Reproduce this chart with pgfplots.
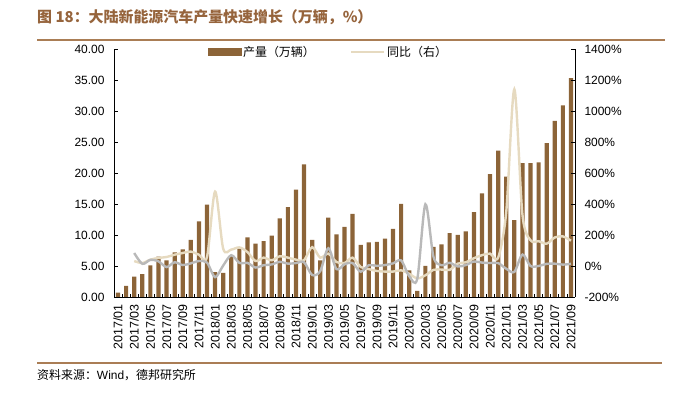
\documentclass[border=0pt]{standalone}
\usepackage{pgfplots}
\usepackage{pgfplotstable}
\pgfplotsset{compat=1.18}
\usepackage{fontspec}
\setmainfont{Liberation Sans}
\newfontfamily\cjk{Noto Sans CJK SC}
\definecolor{barc}{RGB}{140,100,56}
\definecolor{beigec}{RGB}{230,218,192}
\definecolor{grayc}{RGB}{185,185,185}
\definecolor{titlec}{RGB}{150,100,60}
\definecolor{linec}{RGB}{170,125,85}

\pgfplotstableread{
x y
0 0.7
1 1.8
2 3.3
3 3.7
4 5.1
5 6.5
6 5.9
7 7.2
8 7.7
9 9.2
10 12.2
11 14.9
12 4.0
13 3.9
14 6.6
15 7.8
16 9.6
17 8.6
18 9.0
19 9.9
20 12.7
21 14.5
22 17.3
23 21.4
24 9.2
25 5.9
26 12.8
27 10.1
28 11.3
29 13.4
30 8.4
31 8.8
32 8.9
33 9.4
34 11.0
35 15.0
36 4.3
37 1.0
38 5.0
39 8.1
40 8.5
41 10.3
42 10.0
43 10.6
44 13.7
45 16.7
46 19.8
47 23.6
48 19.4
49 12.4
50 21.6
51 21.6
52 21.7
53 24.8
54 28.4
55 30.9
56 35.3
}\bars

\pgfplotstableread{
x y
2 32
3 19
4 41
5 52
6 58
7 73
8 84
9 93
10 73
11 58
12 480
13 112
14 106
15 120
16 90
17 32
18 54
19 37
20 63
21 54
22 41
23 38
24 122
25 54
26 80
27 26
28 19
29 54
30 -6
31 -20
32 -32
33 -36
34 -36
35 -28
36 -50
37 -80
38 -60
39 -25
40 -23
41 -25
42 15
43 24
44 50
45 70
46 80
47 54
48 350
49 1140
50 332
51 166
52 160
53 144
54 184
55 191
56 163
}\yoy

\pgfplotstableread{
x y
2 84
3 14
4 40
5 30
6 -7
7 24
8 6
9 17
10 32
11 22
12 -72
13 3
14 70
15 20
16 20
17 -10
18 5
19 10
20 27
21 15
22 19
23 24
24 -58
25 -33
26 115
27 -20
28 11
29 19
30 -37
31 5
32 1
33 6
34 17
35 36
36 -65
37 -82
38 398
39 60
40 5
41 21
42 -3
43 6
44 29
45 22
46 19
47 19
48 -18
49 -38
50 74
51 0
52 0
53 14
54 15
55 9
56 14
}\mom

\begin{document}
\begin{tikzpicture}
\useasboundingbox (0,0) rectangle (679bp,393bp);
\node[anchor=west, text=titlec, inner sep=0pt, font=\cjk\bfseries\fontsize{15}{18}\selectfont] at (37bp,376bp) {图 18：大陆新能源汽车产量快速增长（万辆，\%）};
\draw[linec, line width=1.5bp] (37bp,353bp) -- (665bp,353bp);
\draw[linec, line width=1.5bp] (37bp,30bp) -- (662bp,30bp);
\node[anchor=west, inner sep=0pt, font=\fontsize{12}{14}\selectfont] at (37bp,18bp) {{\cjk 资料来源：}Wind{\cjk ，德邦研究所}};

\begin{axis}[
  at={(114bp,96bp)}, anchor=south west, scale only axis,
  width=461bp, height=248bp,
  xmin=-0.5, xmax=56.5, ymin=0, ymax=40,
  axis y line*=left, axis x line*=bottom,
  axis line style={black, line width=0.8bp},
  ybar, bar width=4.2bp,
  tick align=inside, major tick length=4bp, minor tick length=3bp,
  tick style={black, line width=0.8bp},
  xtick={0,2,...,56},
  xticklabels={2017/01,2017/03,2017/05,2017/07,2017/09,2017/11,2018/01,2018/03,2018/05,2018/07,2018/09,2018/11,2019/01,2019/03,2019/05,2019/07,2019/09,2019/11,2020/01,2020/03,2020/05,2020/07,2020/09,2020/11,2021/01,2021/03,2021/05,2021/07,2021/09},
  major x tick style={draw=none},
  minor xtick={-0.5,0.5,...,56.5},
  xticklabel style={rotate=90, anchor=east, font=\fontsize{12.5}{14}\selectfont, yshift=0bp, xshift=-4bp},
  ytick={0,5,...,40},
  yticklabel style={/pgf/number format/.cd, fixed, fixed zerofill, precision=2, assume math mode=true, /tikz/.cd, font=\fontsize{12}{14}\selectfont, xshift=-6bp},
]
\addplot[fill=barc, draw=none] table[x=x,y=y] {\bars};
\end{axis}

\begin{axis}[
  at={(114bp,96bp)}, anchor=south west, scale only axis,
  width=461bp, height=248bp,
  xmin=-0.5, xmax=56.5, ymin=-200, ymax=1400,
  axis y line*=right, axis x line=none,
  axis line style={black, line width=0.8bp},
  tick align=inside, major tick length=4bp,
  tick style={black, line width=0.8bp},
  ytick={-200,0,...,1400},
  yticklabel={\pgfmathprintnumber[assume math mode=true, 1000 sep={}]{\tick}\%},
  yticklabel style={font=\fontsize{12}{14}\selectfont, xshift=6bp},
  legend style={at={(0.465,0.988)}, anchor=center, draw=none, fill=none,
    legend columns=2, font=\cjk\fontsize{12}{14}\selectfont,
    /tikz/every even column/.append style={column sep=33bp}},
]
\addlegendimage{legend image code/.code={\fill[barc] (0bp,-3.5bp) rectangle (33bp,3.5bp);}}
\addlegendentry{产量（万辆）}
\addplot[smooth, beigec, line width=2.4bp, mark=none,
  legend image code/.code={\draw[beigec, line width=2.4bp] (0bp,0bp) -- (33bp,0bp);}] table[x=x,y=y] {\yoy};
\addlegendentry{同比（右）}
\addplot[smooth, grayc, line width=2.4bp, mark=none, forget plot] table[x=x,y=y] {\mom};
\end{axis}
\end{tikzpicture}
\end{document}
